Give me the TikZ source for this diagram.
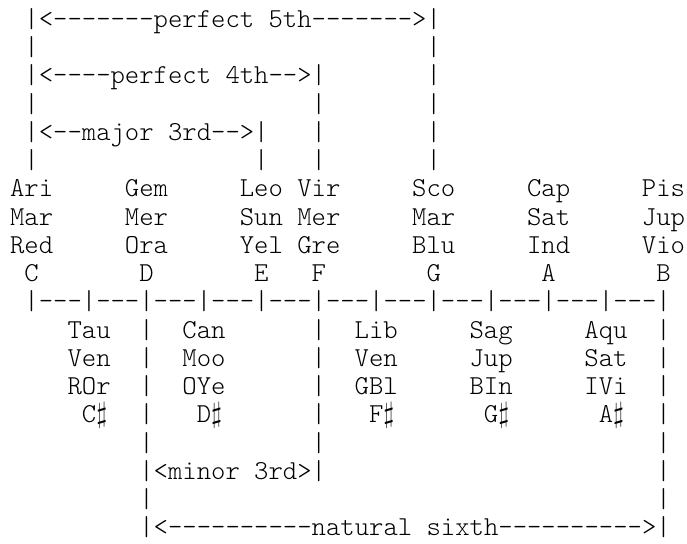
\documentclass[tikz,border=0pt]{standalone}
\usepackage{tikz}
\tikzstyle{txt} = [anchor=base west, inner sep=0pt, outer sep=0pt, font=\ttfamily\fontseries{l}\fontsize{13.68}{14.1}\selectfont]

\begin{document}
\begin{tikzpicture}[x=7.18pt, y=14.125pt]
    \useasboundingbox (-0.703,-0.027) rectangle (47.14,-19.28);
    % interval brackets above the keyboard
    \node[txt] (fifth) at (1,-1) {|<-------perfect 5th------->|};
    \node[txt] (fourth) at (1,-3) {|<----perfect 4th-->|};
    \node[txt] (majthird) at (1,-5) {|<--major 3rd-->|};
    \foreach \r/\c in {2/1, 2/29, 3/29, 4/1, 4/21, 4/29, 5/21, 5/29, 6/1, 6/17, 6/21, 6/29}
        \node[txt] (bar-\r-\c) at (\c,-\r) {|};
    % natural notes
    \foreach \c/\n/\sgn/\pl/\clr in {
        0/C/Ari/Mar/Red, 8/D/Gem/Mer/Ora, 16/E/Leo/Sun/Yel, 20/F/Vir/Mer/Gre,
        28/G/Sco/Mar/Blu, 36/A/Cap/Sat/Ind, 44/B/Pis/Jup/Vio
      }{
        \node[txt] (sign-\n) at (\c,-7) {\sgn};
        \node[txt] (planet-\n) at (\c,-8) {\pl};
        \node[txt] (colour-\n) at (\c,-9) {\clr};
        \node[txt] (note-\n) at (\c+1,-10) {\n};
      }
    \node[txt] (ruler) at (1,-11) {|---|---|---|---|---|---|---|---|---|---|---|};
    % sharps
    \foreach \c/\n/\sgn/\pl/\clr in {
        4/C/Tau/Ven/ROr, 12/D/Can/Moo/OYe, 24/F/Lib/Ven/GBl,
        32/G/Sag/Jup/BIn, 40/A/Aqu/Sat/IVi
      }{
        \node[txt] (sign-\n s) at (\c,-12) {\sgn};
        \node[txt] (planet-\n s) at (\c,-13) {\pl};
        \node[txt] (colour-\n s) at (\c,-14) {\clr};
        \node[txt] (note-\n s) at (\c+1,-15) {\n$\sharp$};
      }
    % interval brackets below the keyboard
    \foreach \r/\c in {12/9, 12/21, 12/45, 13/9, 13/21, 13/45, 14/9, 14/21, 14/45,
                       15/9, 15/21, 15/45, 16/9, 16/21, 16/45, 17/45, 18/9, 18/45}
        \node[txt] (bar-\r-\c) at (\c,-\r) {|};
    \node[txt] (minthird) at (9,-17) {|<minor 3rd>|};
    \node[txt] (sixth) at (9,-19) {|<----------natural sixth---------->|};
\end{tikzpicture}
\end{document}
